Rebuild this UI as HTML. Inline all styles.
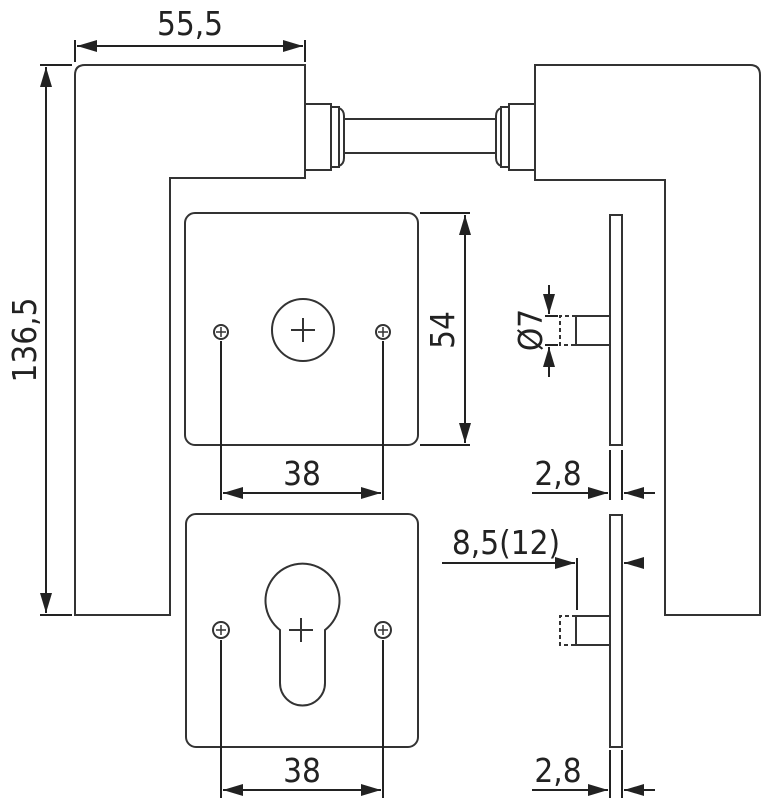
<!DOCTYPE html>
<html><head><style>
body{margin:0;background:#fff}
svg{display:block}
text{font-family:"DejaVu Sans Condensed","Liberation Sans",sans-serif;font-size:33px;fill:#222}
</style></head><body>
<svg width="763" height="800" viewBox="0 0 763 800" xmlns="http://www.w3.org/2000/svg">
<defs>
<marker id="a" viewBox="0 0 20 12" refX="20" refY="6" markerWidth="20" markerHeight="12" markerUnits="userSpaceOnUse" orient="auto-start-reverse"><path d="M0,0L20,6L0,12z" fill="#222"/></marker>
</defs>
<g fill="none" stroke="#333" stroke-width="2">
<path d="M305,65 H85 Q75,65 75,75 V615 H170 V178 H305 Z"/>
<path d="M535,65 H750 Q760,65 760,75 V615 H665 V180 H535 Z"/>
<rect x="305" y="104" width="26" height="66"/>
<rect x="331" y="107" width="8" height="60"/>
<path d="M339,108 Q344,110 344,116 V158 Q344,164 339,166"/>
<rect x="509" y="104" width="26" height="66"/>
<rect x="501" y="107" width="8" height="60"/>
<path d="M501,108 Q496,110 496,116 V158 Q496,164 501,166"/>
<line x1="344" y1="119" x2="496" y2="119"/>
<line x1="344" y1="153" x2="496" y2="153"/>
<rect x="185" y="213" width="233" height="232" rx="10"/>
<circle cx="303" cy="330" r="31"/>
<path d="M303,318V342M291,330H315"/>
<circle cx="221" cy="332" r="7"/><path d="M221,327V337M216,332H226" stroke-width="1.5"/>
<circle cx="383" cy="332" r="7"/><path d="M383,327V337M378,332H388" stroke-width="1.5"/>
<rect x="186" y="514" width="232" height="233" rx="10"/>
<path d="M280,630 A37,37 0 1 1 325,630 V683 A22.5,22.5 0 0 1 280,683 Z"/>
<path d="M301,618V642M289,630H313"/>
<circle cx="221" cy="630" r="8"/><path d="M221,625V635M216,630H226" stroke-width="1.5"/>
<circle cx="383" cy="630" r="8"/><path d="M383,625V635M378,630H388" stroke-width="1.5"/>
<rect x="610" y="215" width="12" height="230"/>
<rect x="576" y="316" width="34" height="29"/>
<path d="M576,316H560V345H576" stroke-dasharray="4,3"/>
<rect x="610" y="515" width="12" height="232"/>
<rect x="576" y="616" width="34" height="29"/>
<path d="M576,616H560V645H576" stroke-dasharray="4,3"/>
</g>
<g stroke="#222" stroke-width="2" fill="none">
<line x1="75" y1="40" x2="75" y2="62"/><line x1="305" y1="40" x2="305" y2="62"/>
<line x1="77" y1="46" x2="303" y2="46" marker-start="url(#a)" marker-end="url(#a)"/>
<line x1="40" y1="65" x2="72" y2="65"/><line x1="40" y1="615" x2="72" y2="615"/>
<line x1="46" y1="67" x2="46" y2="613" marker-start="url(#a)" marker-end="url(#a)"/>
<line x1="420" y1="213" x2="470" y2="213"/><line x1="420" y1="445" x2="470" y2="445"/>
<line x1="465" y1="215" x2="465" y2="443" marker-start="url(#a)" marker-end="url(#a)"/>
<line x1="221" y1="341" x2="221" y2="500"/><line x1="383" y1="341" x2="383" y2="500"/>
<line x1="223" y1="493" x2="381" y2="493" marker-start="url(#a)" marker-end="url(#a)"/>
<line x1="221" y1="640" x2="221" y2="798"/><line x1="383" y1="640" x2="383" y2="798"/>
<line x1="223" y1="790" x2="381" y2="790" marker-start="url(#a)" marker-end="url(#a)"/>
<line x1="545" y1="316" x2="558" y2="316"/><line x1="545" y1="345" x2="558" y2="345"/>
<line x1="549" y1="285" x2="549" y2="314" marker-end="url(#a)"/>
<line x1="549" y1="377" x2="549" y2="347" marker-end="url(#a)"/>
<line x1="610" y1="450" x2="610" y2="500"/><line x1="622" y1="450" x2="622" y2="500"/>
<line x1="532" y1="493" x2="608" y2="493" marker-end="url(#a)"/>
<line x1="655" y1="493" x2="624" y2="493" marker-end="url(#a)"/>
<line x1="610" y1="750" x2="610" y2="798"/><line x1="622" y1="750" x2="622" y2="798"/>
<line x1="532" y1="790" x2="608" y2="790" marker-end="url(#a)"/>
<line x1="655" y1="790" x2="624" y2="790" marker-end="url(#a)"/>
<line x1="577" y1="558" x2="577" y2="610"/>
<line x1="442" y1="563" x2="575" y2="563" marker-end="url(#a)"/>
<line x1="642" y1="563" x2="624" y2="563" marker-end="url(#a)"/>
</g>
<text x="190" y="35" text-anchor="middle">55,5</text>
<text transform="translate(36,340) rotate(-90)" text-anchor="middle">136,5</text>
<text transform="translate(454,330) rotate(-90)" text-anchor="middle">54</text>
<text x="302" y="485" text-anchor="middle">38</text>
<text x="302" y="782" text-anchor="middle">38</text>
<text transform="translate(542,330) rotate(-90)" text-anchor="middle">Ø7</text>
<text x="558" y="485" text-anchor="middle">2,8</text>
<text x="558" y="782" text-anchor="middle">2,8</text>
<text x="506" y="554" text-anchor="middle">8,5(12)</text>
</svg>
</body></html>
